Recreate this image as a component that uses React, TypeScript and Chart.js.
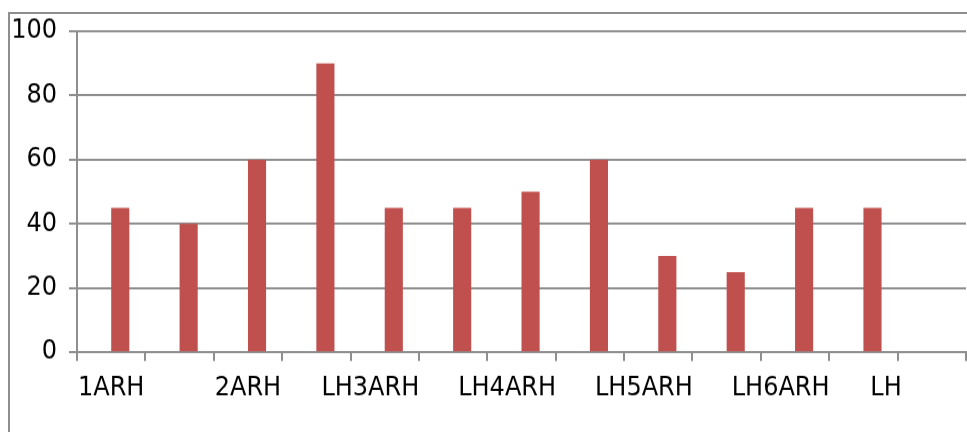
import React, { useEffect, useRef } from "react";
import { Chart, registerables } from "chart.js";

Chart.register(...registerables);

const categories = [
  "1ARH", "", "2ARH", "", "LH3ARH", "", "LH4ARH", "", "LH5ARH", "", "LH6ARH", "", "LH",
];
const seriesA: (number | null)[] = [null, null, null, null, null, null, null, null, null, null, null, null, null];
const seriesB: (number | null)[] = [45, 40, 60, 90, 45, 45, 50, 60, 30, 25, 45, 45, null];
const yTicks = [0, 20, 40, 60, 80, 100];

const FONT = "'DejaVu Sans', sans-serif";
const GRID = "#8e8e8e";
const W = 957;
const H_VIEW = 418;
const STRETCH = 1.08;
const H_INT = Math.round(H_VIEW / STRETCH);

// labels whose "LH" prefix hangs to the left of the category centre
function padLabel(s: string): string {
  if (s === "LH") return s + "\u2002".repeat(7) + " ";
  if (s.startsWith("LH")) return s + "\u2002\u2002\u2009";
  return s;
}

export default function App() {
  const ref = useRef<HTMLCanvasElement | null>(null);
  useEffect(() => {
    if (!ref.current) return;
    const chart = new Chart(ref.current, {
      type: "bar",
      data: {
        labels: categories,
        datasets: [
          { label: "Series 1", data: seriesA, backgroundColor: "#4F81BD" },
          { label: "Series 2", data: seriesB, backgroundColor: "#C0504D" },
        ],
      },
      options: {
        animation: false,
        responsive: false,
        maintainAspectRatio: false,
        devicePixelRatio: 1,
        layout: { padding: { left: 0, right: 1, top: 16, bottom: 15 } },
        datasets: { bar: { barPercentage: 1, categoryPercentage: 0.53 } },
        plugins: { legend: { display: false }, tooltip: { enabled: false } },
        scales: {
          x: {
            afterFit: (s: any) => {
              s.paddingLeft = 0;
              s.paddingRight = 0;
            },
            grid: { drawOnChartArea: false, drawTicks: true, tickLength: 8, color: GRID, lineWidth: 2 },
            border: { display: true, color: GRID, width: 2 },
            ticks: {
              autoSkip: false,
              maxRotation: 0,
              minRotation: 0,
              padding: 11,
              color: "#000",
              font: { family: FONT, size: 24 },
              callback: (_v: any, i: number) => padLabel(categories[i]),
            },
          },
          y: {
            min: yTicks[0],
            max: yTicks[yTicks.length - 1],
            afterBuildTicks: (axis: any) => {
              axis.ticks = yTicks.map((v) => ({ value: v }));
            },
            afterFit: (s: any) => {
              s.width = 67;
              s.paddingTop = 0;
              s.paddingBottom = 0;
            },
            grid: { color: GRID, lineWidth: 2, tickLength: 8, drawTicks: true },
            border: { display: true, color: GRID, width: 2 },
            ticks: {
              padding: 12,
              color: "#000",
              font: { family: FONT, size: 24 },
            },
          },
        },
      },
    });
    return () => chart.destroy();
  }, []);

  return (
    <div
      style={{
        position: "fixed",
        left: 8,
        top: 12,
        width: W,
        height: H_VIEW,
        borderTop: "2px solid #8e8e8e",
        borderLeft: "2px solid #8e8e8e",
        background: "#fff",
      }}
    >
      <canvas
        ref={ref}
        width={W}
        height={H_INT}
        style={{ display: "block", width: W, height: H_VIEW }}
      />
    </div>
  );
}
